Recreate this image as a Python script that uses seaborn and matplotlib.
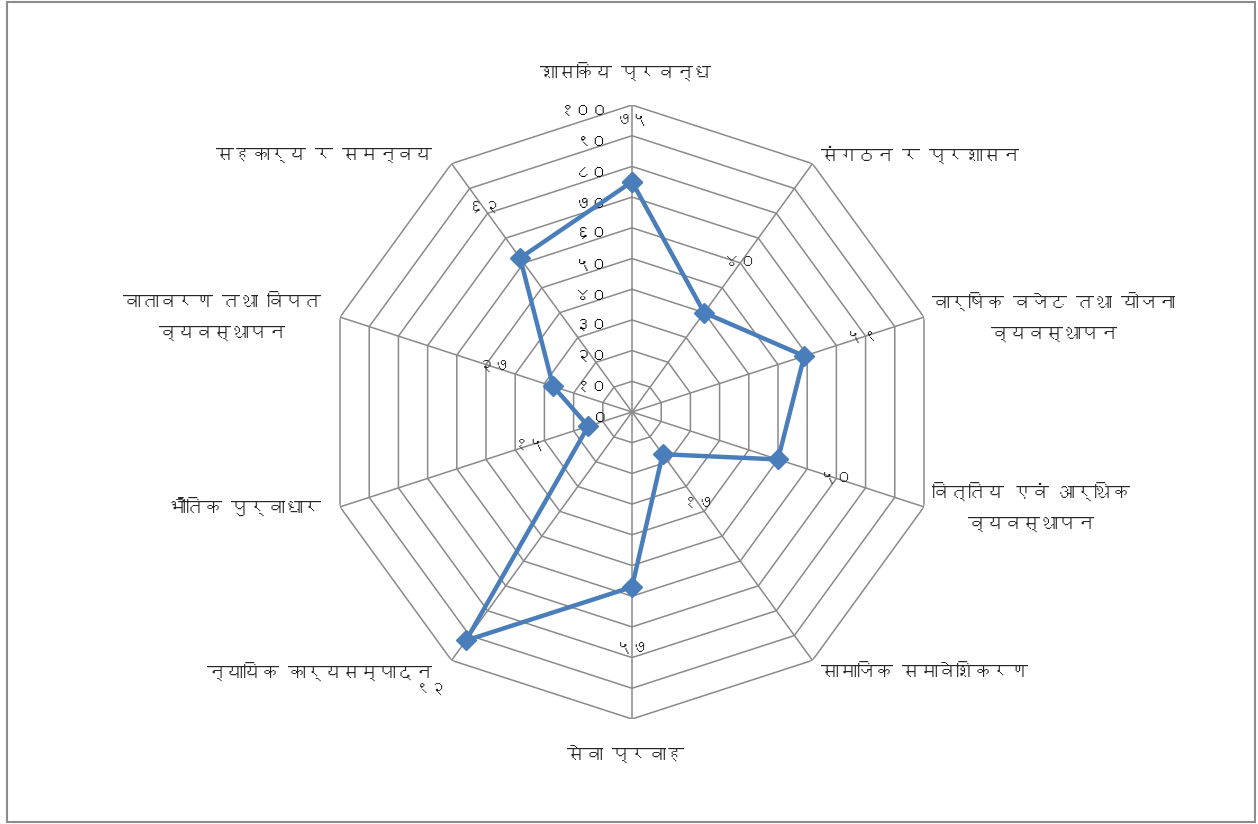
import numpy as np
import matplotlib
matplotlib.use("Agg")
import matplotlib.pyplot as plt
import matplotlib.patches as mpatches
from matplotlib import font_manager
from matplotlib.ft2font import FT2Font
import seaborn as sns

categories = ["शासकिय प्रवन्ध", "संगठन र प्रशासन", "वार्षिक वजेट तथा योजना\nव्यवस्थापन",
              "वित्तिय एवं आर्थिक\nव्यवस्थापन", "सामाजिक समावेशिकरण", "सेवा प्रवाह",
              "न्यायिक कार्यसम्पादन", "भाौतिक पुर्वाधार", "वातावरण तथा विपत\nव्यवस्थापन",
              "सहकार्य र समन्वय"]
values = [75, 40, 59, 50, 17, 57, 92, 15, 27, 62]
value_labels = ["७५", "४०", "५९", "५०", "१७", "५७", "९२", "१५", "२७", "६२"]
ticks = [0, 10, 20, 30, 40, 50, 60, 70, 80, 90, 100]
tick_labels = ["०", "१०", "२०", "३०", "४०", "५०", "६०", "७०", "८०", "९०", "१००"]


def find_devanagari_font():
    for f in font_manager.fontManager.ttflist:
        try:
            if 0x0915 in FT2Font(f.fname).get_charmap():
                return f.name
        except Exception:
            pass
    return None


sns.set_theme(style="white")
deva = find_devanagari_font()
fams = ([deva] if deva else []) + ["Noto Sans", "DejaVu Sans"]
plt.rcParams["font.family"] = fams

fig = plt.figure(figsize=(12.58, 8.24), dpi=100)
fig.patches.append(mpatches.Rectangle((7 / 1258, 2 / 824), 1248 / 1258, 820 / 824,
                                      transform=fig.transFigure, fill=False,
                                      edgecolor="#8c8c8c", linewidth=1.5))

cx, cy, R = 632 / 1258, 1 - 412 / 824, 307
ax = fig.add_axes([cx - R / 1258, cy - R / 824, 2 * R / 1258, 2 * R / 824], projection="polar")
ax.set_theta_zero_location("N")
ax.set_theta_direction(-1)
ax.set_ylim(0, 100)
ax.grid(False)
ax.spines["polar"].set_visible(False)
ax.set_xticks([])
ax.set_yticks([])
ax.patch.set_alpha(0)

n = len(categories)
theta = np.linspace(0, 2 * np.pi, n, endpoint=False)
closed = np.append(theta, theta[0])

grid_col = "#8a8a8a"
for t in ticks[1:]:
    ax.plot(closed, [t] * (n + 1), color=grid_col, lw=1.1, zorder=1)
for th in theta:
    ax.plot([th, th], [0, 100], color=grid_col, lw=1.1, zorder=1)

# value axis labels along the top spoke
for t, lab in zip(ticks, tick_labels):
    ax.annotate(lab, xy=(0, t), xytext=(-17, -5), textcoords="offset points",
                ha="right", va="center", fontsize=12, color="black")

ax.plot(closed, values + values[:1], color="#4a7ebb", lw=3.2, marker="D",
        markersize=10, markerfacecolor="#4a7ebb", markeredgecolor="#4a7ebb", zorder=3)

for th, v, lab in zip(theta, values, value_labels):
    ax.text(th, v + 20, lab, ha="center", va="center", fontsize=12, zorder=4)

# category labels outside the outer vertices
for i, (th, lab) in enumerate(zip(theta, categories)):
    deg = np.degrees(th)
    if i == 0:
        ax.annotate(lab, xy=(th, 100), xytext=(-5, 24), textcoords="offset points",
                    ha="center", va="center", fontsize=13)
    elif i == 5:
        ax.annotate(lab, xy=(th, 100), xytext=(-5, -25), textcoords="offset points",
                    ha="center", va="center", fontsize=13)
    elif deg < 180:
        dy = 6 if i == 1 else (-8 if i == 4 else 0)
        ax.annotate(lab, xy=(th, 100), xytext=(6, dy), textcoords="offset points",
                    ha="left", va="center", multialignment="center", fontsize=13,
                    linespacing=2.2)
    else:
        dy = 6 if i == 9 else (-8 if i == 6 else 0)
        ax.annotate(lab, xy=(th, 100), xytext=(-14, dy), textcoords="offset points",
                    ha="right", va="center", multialignment="center", fontsize=13,
                    linespacing=2.2)

fig.savefig("out.png", dpi=100)
